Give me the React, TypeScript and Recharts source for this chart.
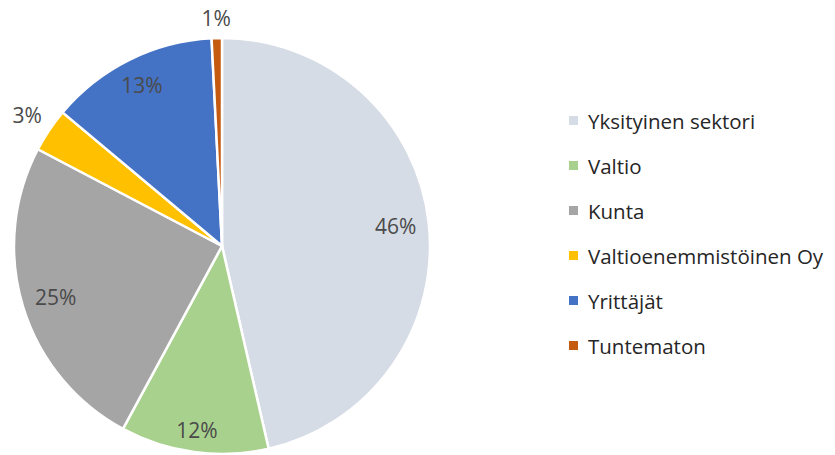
import { PieChart, Pie, Cell, Legend } from "recharts";

const categories = [
  "Yksityinen sektori",
  "Valtio",
  "Kunta",
  "Valtioenemmistöinen Oy",
  "Yrittäjät",
  "Tuntematon",
];
const shares = [46.4, 11.5, 24.8, 3.4, 13.1, 0.8];
const colors = ["#D6DCE5", "#A9D18E", "#A5A5A5", "#FFC000", "#4472C4", "#C55A11"];

const data = categories.map((name, i) => ({ name, value: shares[i] }));

const FONT = "'Open Sans', 'Liberation Sans', sans-serif";
const RAD = Math.PI / 180;

function renderLabel(props: any) {
  const { cx, cy, midAngle, outerRadius, percent } = props;
  const c = Math.cos(-midAngle * RAD);
  const s = Math.sin(-midAngle * RAD);
  // inside-end labels keep their box inside the rim; tiny slices go outside
  const r =
    percent < 0.05
      ? outerRadius + 20 + 8 * Math.abs(c)
      : outerRadius - (8 + 24 * Math.abs(c) + 11 * Math.abs(s));
  return (
    <text
      x={cx + r * c}
      y={cy + r * s}
      fill="#4a4a4a"
      fontSize={21}
      fontFamily={FONT}
      textAnchor="middle"
      dominantBaseline="central"
    >
      {`${Math.round(percent * 100)}%`}
    </text>
  );
}

function LegendBox() {
  return (
    <div style={{ fontFamily: FONT }}>
      {categories.map((name, i) => (
        <div
          key={name}
          style={{ display: "flex", alignItems: "center", height: 45 }}
        >
          <span
            style={{
              width: 9,
              height: 9,
              background: colors[i],
              marginRight: 10,
              display: "inline-block",
            }}
          />
          <span style={{ fontSize: 20.5, color: "#262626", whiteSpace: "nowrap" }}>
            {name}
          </span>
        </div>
      ))}
    </div>
  );
}

export default function App() {
  return (
    <div style={{ position: "absolute", left: 0, top: 0, background: "#fff" }}>
      <PieChart width={835} height={455}>
        <Pie
          data={data}
          dataKey="value"
          nameKey="name"
          cx={217}
          cy={241}
          outerRadius={208}
          startAngle={90}
          endAngle={-270}
          stroke="#ffffff"
          strokeWidth={2.5}
          label={renderLabel}
          labelLine={false}
          isAnimationActive={false}
        >
          {data.map((d, i) => (
            <Cell key={d.name} fill={colors[i]} />
          ))}
        </Pie>
        <Legend
          layout="vertical"
          content={() => <LegendBox />}
          wrapperStyle={{ left: 569, top: 98, width: 266 }}
        />
      </PieChart>
    </div>
  );
}
